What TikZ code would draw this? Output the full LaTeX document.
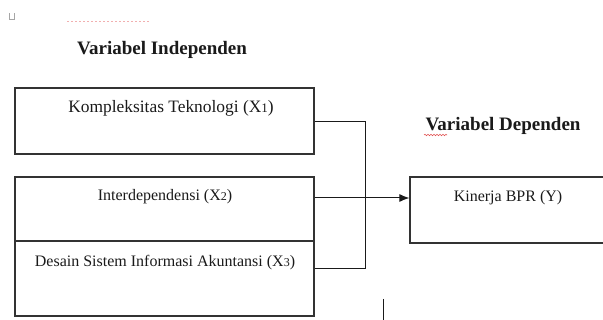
\documentclass[tikz,border=0pt]{standalone}
\usepackage{fontspec}
\setmainfont{Liberation Serif}
\usetikzlibrary{arrows.meta,decorations.pathmorphing}
\definecolor{ink}{HTML}{1A1A1A}
\definecolor{edge}{HTML}{333333}
\definecolor{squig}{HTML}{E05050}
\tikzset{
  box/.style={draw=edge, line width=1.2pt, rectangle, inner sep=0pt},
  lbl/.style={text=ink, font=\fontsize{16}{18}\selectfont, inner sep=0pt, anchor=base},
  ttl/.style={text=ink, font=\fontsize{19}{22}\selectfont\bfseries, inner sep=0pt, anchor=base},
  conn/.style={draw=ink, line width=1pt},
}
\newcommand{\sd}[1]{{\fontsize{12}{14}\selectfont #1}}
\begin{document}
\begin{tikzpicture}[x=1pt,y=-1pt]
\useasboundingbox (0,0) rectangle (603,320);
\clip (0,0) rectangle (603,320);
% artifacts
\draw[gray!70, line width=1pt] (9,13) -- (9,20) -- (14,20) -- (14,13);
\draw[squig!45, line width=0.8pt, dash pattern=on 2pt off 2pt] (67,21) -- (150,21);
% titles
\node[ttl] (ti) at (162,55) {Variabel Independen};
\node[ttl] (td) at (503,131) {Variabel Dependen};
\draw[squig, line width=0.6pt, decorate, decoration={snake, amplitude=0.7pt, segment length=3pt}] (424,135) -- (447,135);
% boxes
\node[box, minimum width=299pt, minimum height=66pt] (b1) at (164.5,121) {};
\node[box, minimum width=299pt, minimum height=64pt] (b2) at (164.5,209) {};
\node[box, minimum width=299pt, minimum height=75pt] (b3) at (164.5,278.5) {};
\node[box, minimum width=200pt, minimum height=66pt] (by) at (510,210) {};
% labels
\node[lbl, font=\fontsize{17.4}{19}\selectfont] (l1) at (171,113) {Kompleksitas Teknologi (X{\fontsize{13}{14}\selectfont 1})};
\node[lbl] (l2) at (165,201) {Interdependensi (X\sd{2})};
\node[lbl] (l3) at (165,267) {Desain Sistem Informasi Akuntansi (X\sd{3})};
\node[lbl] (ly) at (508,202) {Kinerja BPR (Y)};
% connectors
\coordinate (jt) at (365,122);
\coordinate (jb) at (365,269);
\coordinate (ja) at (365,198);
\draw[conn] (b1.east |- jt) -- (jt) -- (jb) -- (b3.east |- jb);
\draw[conn, -{Latex[length=10pt,width=8pt]}] (b2.east |- ja) -- (by.west |- ja);
% stray mark
\coordinate (s1) at (383,299);
\coordinate (s2) at (383,320);
\draw[conn] (s1) -- (s2);
\end{tikzpicture}
\end{document}
